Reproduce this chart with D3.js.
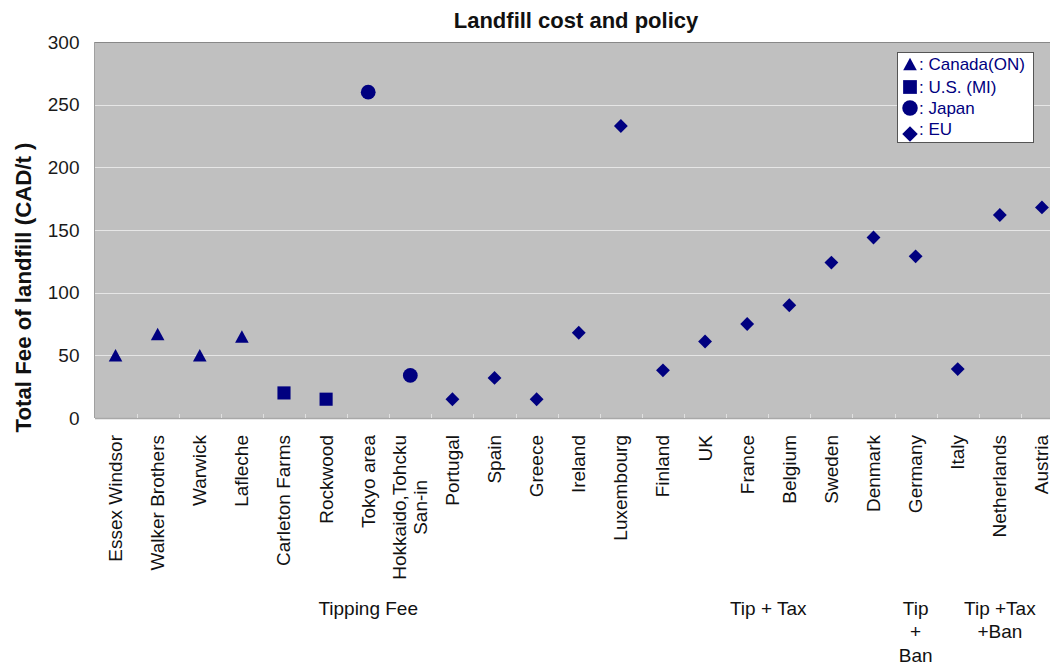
<!DOCTYPE html>
<html>
<head>
<meta charset="utf-8">
<script src="https://cdn.jsdelivr.net/npm/d3@7"></script>
<style>
  html, body { margin: 0; padding: 0; background: #ffffff; }
  svg { display: block; font-family: "Liberation Sans", Arial, sans-serif; }
</style>
</head>
<body>
<svg id="chart" width="1050" height="664"></svg>
<script>
// Landfill fee (CAD per tonne) by site / country
const categories = [
  "Essex Windsor", "Walker Brothers", "Warwick", "Lafleche", "Carleton Farms",
  "Rockwood", "Tokyo area", "Hokkaido,Tohcku\nSan-in", "Portugal", "Spain",
  "Greece", "Ireland", "Luxembourg", "Finland", "UK", "France", "Belgium",
  "Sweden", "Denmark", "Germany", "Italy", "Netherlands", "Austria"
];
const regions = [
  "Canada(ON)", "Canada(ON)", "Canada(ON)", "Canada(ON)", "U.S. (MI)",
  "U.S. (MI)", "Japan", "Japan", "EU", "EU",
  "EU", "EU", "EU", "EU", "EU", "EU", "EU",
  "EU", "EU", "EU", "EU", "EU", "EU"
];
const fees = [50, 67, 50, 65, 20, 15, 260, 34, 15, 32, 15, 68, 233, 38, 61, 75, 90, 124, 144, 129, 39, 162, 168];

const legendRegions = ["Canada(ON)", "U.S. (MI)", "Japan", "EU"];
const yTicks = [0, 50, 100, 150, 200, 250, 300];

// Policy groups shown under the category labels
const policyGroups = [
  { lines: ["Tipping Fee"], from: "Essex Windsor", to: "Luxembourg" },
  { lines: ["Tip + Tax"], from: "Finland", to: "Denmark" },
  { lines: ["Tip", "+", "Ban"], from: "Germany", to: "Germany" },
  { lines: ["Tip +Tax", "+Ban"], from: "Italy", to: "Austria" }
];

const svg = d3.select("#chart");
const plot = { left: 94.5, top: 42, right: 1063, bottom: 418 };
const markColor = "#000080";

const x = d3.scaleBand().domain(categories).range([plot.left, plot.right]).padding(0);
const y = d3.scaleLinear().domain([0, 300]).range([plot.bottom, plot.top]);

// Triangle centred on its bounding box; size is the box width
const boxTriangle = {
  draw(context, size) {
    const w = size, h = size * 0.92;
    context.moveTo(0, -h / 2);
    context.lineTo(w / 2, h / 2);
    context.lineTo(-w / 2, h / 2);
    context.closePath();
  }
};

// Marker shapes per region
const shapeOf = {
  "Canada(ON)": { type: boxTriangle, size: 13.6, rotate: 0 },
  "U.S. (MI)": { type: d3.symbolSquare, size: 172, rotate: 0 },
  "Japan": { type: d3.symbolCircle, size: 172, rotate: 0 },
  "EU": { type: d3.symbolSquare, size: 96, rotate: 45 }
};
function symbolPath(region, scale = 1) {
  const s = shapeOf[region];
  return d3.symbol().type(s.type).size(s.size * scale)();
}

// Plot background
svg.append("rect")
  .attr("x", plot.left).attr("y", plot.top)
  .attr("width", plot.right - plot.left).attr("height", plot.bottom - plot.top)
  .attr("fill", "#c0c0c0");

// Horizontal gridlines
svg.append("g")
  .selectAll("line")
  .data(yTicks.filter(t => t > 0 && t < 300))
  .join("line")
  .attr("x1", plot.left).attr("x2", plot.right)
  .attr("y1", d => Math.round(y(d)) + 0.5).attr("y2", d => Math.round(y(d)) + 0.5)
  .attr("stroke", "#e6e6e6").attr("stroke-width", 1);

// Plot frame: top and left edges
svg.append("line")
  .attr("x1", plot.left).attr("x2", plot.right)
  .attr("y1", plot.top + 0.5).attr("y2", plot.top + 0.5)
  .attr("stroke", "#888888");
svg.append("line")
  .attr("x1", plot.left).attr("x2", plot.left)
  .attr("y1", plot.top).attr("y2", plot.bottom)
  .attr("stroke", "#a0a0a0");

// Y axis
const yAxis = d3.axisLeft(y).tickValues(yTicks).tickSize(0).tickPadding(15);
const yG = svg.append("g").attr("transform", `translate(${plot.left},0)`).call(yAxis);
yG.select(".domain").remove();
yG.selectAll("text")
  .attr("font-size", 19)
  .attr("font-family", "Liberation Sans, Arial, sans-serif")
  .attr("fill", "#1a1a1a");

// X axis baseline with small inward ticks between categories
const bottomAxis = d3.axisBottom(x).tickSize(0).tickFormat("");
const xG = svg.append("g").attr("transform", `translate(0,${plot.bottom})`).call(bottomAxis);
xG.select(".domain").attr("stroke", "#a8a8a8").attr("stroke-width", 1.5);
xG.selectAll(".tick").remove();
svg.append("g")
  .selectAll("line")
  .data(categories.slice(1))
  .join("line")
  .attr("x1", d => Math.round(x(d)) + 0.5).attr("x2", d => Math.round(x(d)) + 0.5)
  .attr("y1", plot.bottom - 4).attr("y2", plot.bottom)
  .attr("stroke", "#e0e0e0");

// Category labels, rotated and top-aligned under the axis
const labelTop = 435;
const labelG = svg.append("g")
  .attr("font-size", 19)
  .attr("fill", "#111111");
categories.forEach(cat => {
  const lines = cat.split("\n");
  const cx = x(cat) + x.bandwidth() / 2;
  const lineGap = 21;
  const g = labelG.append("g");
  const texts = lines.map((line, i) => g.append("text")
    .attr("text-anchor", "middle")
    .attr("transform", `translate(${cx + 6.5 + (i - (lines.length - 1) / 2) * lineGap},0) rotate(-90)`)
    .text(line));
  const w = d3.max(texts, t => t.node().getComputedTextLength());
  g.attr("transform", `translate(0,${labelTop + w / 2})`);
});

// Policy group captions
const groupG = svg.append("g")
  .attr("font-size", 19)
  .attr("fill", "#111111")
  .attr("text-anchor", "middle");
policyGroups.forEach(gp => {
  const cx = (x(gp.from) + x(gp.to) + x.bandwidth()) / 2;
  gp.lines.forEach((line, i) => {
    groupG.append("text")
      .attr("x", cx)
      .attr("y", 614.5 + i * 23.5)
      .text(line);
  });
});

// Data markers
svg.append("g")
  .selectAll("path")
  .data(categories.map((c, i) => ({ cat: c, region: regions[i], fee: fees[i] })))
  .join("path")
  .attr("d", d => symbolPath(d.region))
  .attr("transform", d => {
    const s = shapeOf[d.region];
    return `translate(${x(d.cat) + x.bandwidth() / 2},${y(d.fee)}) rotate(${s.rotate})`;
  })
  .attr("fill", markColor);

// Chart title
svg.append("text")
  .attr("x", 576).attr("y", 28)
  .attr("text-anchor", "middle")
  .attr("font-size", 22)
  .attr("font-weight", "bold")
  .attr("fill", "#111111")
  .text("Landfill cost and policy");

// Y axis title
svg.append("text")
  .attr("transform", `translate(30.5,${(433 + 142) / 2}) rotate(-90)`)
  .attr("text-anchor", "middle")
  .attr("font-size", 22)
  .attr("font-weight", "bold")
  .attr("fill", "#111111")
  .attr("textLength", 290)
  .attr("lengthAdjust", "spacingAndGlyphs")
  .text("Total Fee of landfill (CAD/t )");

// Legend
const legend = svg.append("g");
legend.append("rect")
  .attr("x", 897.5).attr("y", 52.5)
  .attr("width", 136).attr("height", 90)
  .attr("fill", "#ffffff")
  .attr("stroke", "#555555");
const legendRowY = [64, 87, 108, 134];
legendRegions.forEach((r, i) => {
  const s = shapeOf[r];
  const scale = r === "Canada(ON)" ? 1 : (r === "EU" ? 1.25 : 1.1);
  legend.append("path")
    .attr("d", symbolPath(r, scale))
    .attr("transform", `translate(910,${legendRowY[i]}) rotate(${s.rotate})`)
    .attr("fill", markColor);
  legend.append("text")
    .attr("x", 919)
    .attr("y", legendRowY[i] + (r === "EU" ? 1 : 6))
    .attr("font-size", 17)
    .attr("fill", markColor)
    .text(": " + r);
});
</script>
</body>
</html>
